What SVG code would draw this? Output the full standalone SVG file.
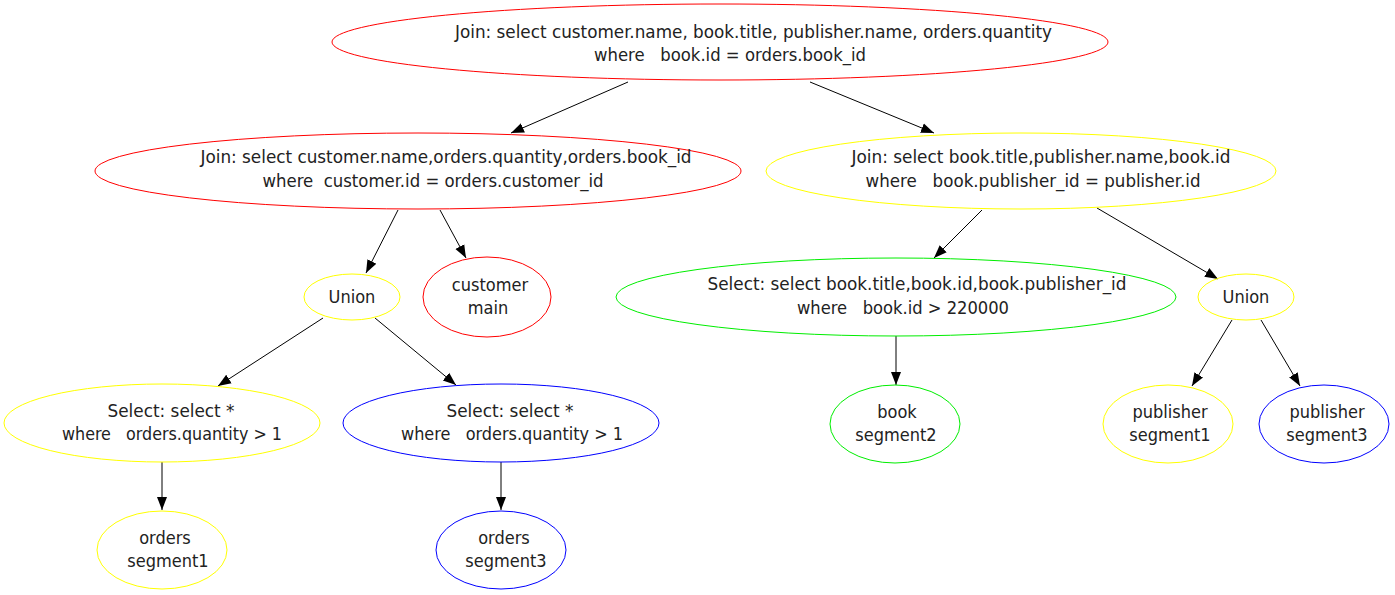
<svg xmlns="http://www.w3.org/2000/svg" width="1395" height="595" viewBox="0 0 1395 595">
<style>
text{font-family:"DejaVu Sans Condensed","DejaVu Sans","Liberation Sans",sans-serif;font-size:18px;fill:#222;text-anchor:middle}
ellipse{fill:none;stroke-width:1}
.r{stroke:#ff0000}.y{stroke:#ffff00}.g{stroke:#00ee00}.b{stroke:#0000ff}
.e{stroke:#000;stroke-width:1;fill:none;marker-end:url(#ah)}
</style>
<defs>
<marker id="ah" markerUnits="userSpaceOnUse" markerWidth="14" markerHeight="12" viewBox="0 0 14 12" refX="13" refY="6" orient="auto">
<path d="M0,1 L13,6 L0,11 Z" fill="#000"/>
</marker>
</defs>
<rect width="1395" height="595" fill="#fff"/>
<g id="connectors">
<line class="e" x1="628" y1="82" x2="511" y2="133"/>
<line class="e" x1="810" y1="82" x2="934" y2="133"/>
<line class="e" x1="398" y1="210" x2="366" y2="273"/>
<line class="e" x1="440" y1="210" x2="466" y2="258"/>
<line class="e" x1="323" y1="318" x2="218" y2="386"/>
<line class="e" x1="375" y1="318" x2="456" y2="385"/>
<line class="e" x1="162" y1="462" x2="162" y2="510"/>
<line class="e" x1="501" y1="462" x2="501" y2="510"/>
<line class="e" x1="982" y1="210" x2="934" y2="258"/>
<line class="e" x1="1097" y1="208" x2="1218" y2="279"/>
<line class="e" x1="896" y1="336" x2="896" y2="385"/>
<line class="e" x1="1232" y1="320" x2="1192" y2="386"/>
<line class="e" x1="1261" y1="320" x2="1300" y2="386"/>
</g>
<g id="join_top"><ellipse class="r" cx="720" cy="42" rx="388" ry="38"/>
<text x="753.5" y="38" textLength="597" lengthAdjust="spacingAndGlyphs">Join: select customer.name, book.title, publisher.name, orders.quantity</text>
<text x="730" y="61" textLength="272" lengthAdjust="spacingAndGlyphs" xml:space="preserve">where   book.id = orders.book_id</text></g>
<g id="join_left"><ellipse class="r" cx="418" cy="171" rx="323" ry="38"/>
<text x="446" y="163" textLength="491" lengthAdjust="spacingAndGlyphs">Join: select customer.name,orders.quantity,orders.book_id</text>
<text x="433" y="187" textLength="341" lengthAdjust="spacingAndGlyphs" xml:space="preserve">where  customer.id = orders.customer_id</text></g>
<g id="join_right"><ellipse class="y" cx="1021" cy="171" rx="255" ry="38"/>
<text x="1041" y="163" textLength="379" lengthAdjust="spacingAndGlyphs">Join: select book.title,publisher.name,book.id</text>
<text x="1033" y="187" textLength="335" lengthAdjust="spacingAndGlyphs" xml:space="preserve">where   book.publisher_id = publisher.id</text></g>
<g id="union_left"><ellipse class="y" cx="352" cy="297" rx="48" ry="23"/>
<text x="352" y="303">Union</text></g>
<g id="customer_main"><ellipse class="r" cx="487" cy="297" rx="64" ry="40"/>
<text x="490" y="291">customer</text><text x="488" y="314">main</text></g>
<g id="select_book"><ellipse class="g" cx="896" cy="297" rx="280" ry="39"/>
<text x="917" y="290" textLength="419" lengthAdjust="spacingAndGlyphs">Select: select book.title,book.id,book.publisher_id</text>
<text x="903" y="314" textLength="212" lengthAdjust="spacingAndGlyphs" xml:space="preserve">where   book.id &gt; 220000</text></g>
<g id="union_right"><ellipse class="y" cx="1246" cy="297" rx="48" ry="23"/>
<text x="1246" y="303">Union</text></g>
<g id="select_orders1"><ellipse class="y" cx="162" cy="423" rx="158" ry="39"/>
<text x="171" y="417" textLength="127" lengthAdjust="spacingAndGlyphs">Select: select *</text>
<text x="172" y="440" textLength="220" lengthAdjust="spacingAndGlyphs" xml:space="preserve">where   orders.quantity &gt; 1</text></g>
<g id="select_orders3"><ellipse class="b" cx="501" cy="423" rx="158" ry="39"/>
<text x="510" y="417" textLength="127" lengthAdjust="spacingAndGlyphs">Select: select *</text>
<text x="512" y="440" textLength="222" lengthAdjust="spacingAndGlyphs" xml:space="preserve">where   orders.quantity &gt; 1</text></g>
<g id="book_segment2"><ellipse class="g" cx="895" cy="424" rx="65" ry="39"/>
<text x="897" y="418">book</text><text x="896" y="441">segment2</text></g>
<g id="publisher_segment1"><ellipse class="y" cx="1168" cy="424" rx="65" ry="39"/>
<text x="1170" y="418">publisher</text><text x="1170" y="441">segment1</text></g>
<g id="publisher_segment3"><ellipse class="b" cx="1324" cy="424" rx="65" ry="39"/>
<text x="1327" y="418">publisher</text><text x="1327" y="441">segment3</text></g>
<g id="orders_segment1"><ellipse class="y" cx="162" cy="550" rx="65" ry="39"/>
<text x="165" y="544">orders</text><text x="168" y="567">segment1</text></g>
<g id="orders_segment3"><ellipse class="b" cx="501" cy="550" rx="65" ry="39"/>
<text x="504" y="544">orders</text><text x="506" y="567">segment3</text></g>
</svg>
